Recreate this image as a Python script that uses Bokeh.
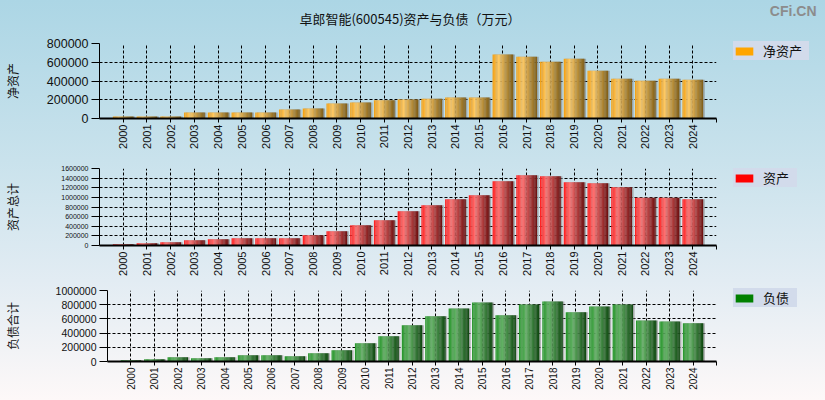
import numpy as np
from bokeh.plotting import figure
from bokeh.models import (FixedTicker, Legend, LegendItem, Label,
                          BasicTickFormatter)
from bokeh.layouts import column, row
from bokeh.embed import file_html
from bokeh.resources import INLINE

# ---------------- data (万元) ----------------
years = [str(y) for y in range(2000, 2025)]
net_assets = [21000, 21000, 21000, 64000, 64000, 64000, 63000, 96000, 106000,
              159000, 170000, 195000, 202000, 212000, 223000, 223000, 683000,
              658000, 605000, 637000, 510000, 425000, 404000, 425000, 414000]
total_assets = [28000, 48000, 69000, 111000, 132000, 152000, 152000, 152000,
                215000, 298000, 422000, 526000, 713000, 838000, 963000, 1046000,
                1337000, 1461000, 1441000, 1316000, 1295000, 1212000, 990000,
                990000, 963000]
liabilities = [19000, 33000, 61000, 47000, 61000, 89000, 89000, 75000, 117000,
               159000, 257000, 355000, 509000, 636000, 748000, 832000, 650000,
               804000, 846000, 692000, 776000, 804000, 579000, 565000, 537000]

title_text = "卓郎智能(600545)资产与负债（万元）"
watermark = "CFi.CN"
y_labels = ["净资产", "资产总计", "负债合计"]
legend_labels = ["净资产", "资产", "负债"]
y_ticks_1 = [0, 200000, 400000, 600000, 800000]
y_ticks_2 = [0, 200000, 400000, 600000, 800000, 1000000, 1200000, 1400000, 1600000]
y_ticks_3 = [0, 200000, 400000, 600000, 800000, 1000000]

W = 825
PW = 730     # width of each chart figure
LW = W - PW  # width of each legend figure
FR = 716     # right edge of plot frames
CJK = "Noto Sans CJK SC"
LAT = "Liberation Sans"


def hex2rgb(h):
    h = h.lstrip("#")
    return np.array([int(h[i:i + 2], 16) for i in (0, 2, 4)], dtype=float)


def grad(stops, t):
    for (p0, c0), (p1, c1) in zip(stops[:-1], stops[1:]):
        if p0 <= t <= p1:
            f = (t - p0) / (p1 - p0) if p1 > p0 else 0
            c = hex2rgb(c0) * (1 - f) + hex2rgb(c1) * f
            return "#%02x%02x%02x" % tuple(int(round(v)) for v in c)
    return stops[-1][1]


def blank(width, height):
    f = figure(width=width, height=height, x_range=(0, 1), y_range=(0, 1),
               output_backend="svg", toolbar_location=None,
               x_axis_location=None, y_axis_location=None,
               min_border_left=0, min_border_right=0, min_border_top=0,
               min_border_bottom=0, frame_align=False)
    f.background_fill_alpha = 0
    f.border_fill_alpha = 0
    f.outline_line_color = None
    f.xgrid.visible = False
    f.ygrid.visible = False
    return f


def panel(values, yticks, height, top, bottom, left, stops, ylabel,
          ytick_size, xtick_size, ylabel_standoff):
    ymax = yticks[-1]
    p = figure(width=PW, height=height, x_range=(-1, 25), y_range=(0, ymax),
               output_backend="svg", toolbar_location=None,
               min_border_left=left, min_border_right=PW - FR,
               min_border_top=top, min_border_bottom=bottom,
               frame_align=False)
    p.background_fill_alpha = 0
    p.border_fill_alpha = 0
    p.outline_line_color = None

    xt = list(range(0, 26))
    p.xaxis.ticker = FixedTicker(ticks=xt)
    overrides = {i: years[i] for i in range(len(years))}
    overrides[25] = ""
    p.xaxis.major_label_overrides = overrides
    p.xaxis.major_label_orientation = np.pi / 2
    p.xaxis.major_label_text_font = LAT
    p.xaxis.major_label_text_font_size = xtick_size
    p.xaxis.major_label_text_color = "#111111"
    p.xaxis.major_label_standoff = 2
    p.xaxis.axis_line_width = 2
    p.xaxis.axis_line_color = "black"
    p.xaxis.major_tick_out = 4
    p.xaxis.major_tick_in = 0
    p.xaxis.major_tick_line_color = "black"
    p.xaxis.minor_tick_line_color = None

    p.yaxis.ticker = FixedTicker(ticks=yticks)
    p.yaxis.formatter = BasicTickFormatter(use_scientific=False)
    p.yaxis.major_label_text_font = LAT
    p.yaxis.major_label_text_font_size = ytick_size
    p.yaxis.major_label_text_color = "#111111"
    p.yaxis.major_label_standoff = 3
    p.yaxis.axis_line_color = "black"
    p.yaxis.axis_line_width = 1
    p.yaxis.major_tick_out = 8
    p.yaxis.major_tick_in = 0
    p.yaxis.major_tick_line_color = "black"
    p.yaxis.minor_tick_line_color = None
    p.yaxis.axis_label = ylabel
    p.yaxis.axis_label_text_font = CJK
    p.yaxis.axis_label_text_font_size = "12px"
    p.yaxis.axis_label_text_font_style = "normal"
    p.yaxis.axis_label_text_color = "#111111"
    p.yaxis.axis_label_standoff = ylabel_standoff

    for g in (p.xgrid, p.ygrid):
        g.grid_line_color = "black"
        g.grid_line_dash = "3 2"
        g.grid_line_width = 1
    p.xgrid.ticker = FixedTicker(ticks=xt)
    p.ygrid.ticker = FixedTicker(ticks=yticks)

    idx = np.arange(len(values), dtype=float)
    vals = np.array(values, dtype=float)
    bw = 0.87
    # shadow
    p.vbar(x=idx + 0.07, top=vals, width=bw, bottom=0,
           fill_color="#7a7a7a", fill_alpha=0.55, line_color=None)
    # gradient bars built from narrow strips
    n = 16
    sw = bw / n
    for k in range(n):
        t = (k + 0.5) / n
        col = grad(stops, t)
        p.vbar(x=idx - bw / 2 + (k + 0.5) * sw, top=vals, bottom=0,
               width=sw * 1.08, fill_color=col, line_color=None)
    return p


def legend_fig(height, color, label, label_width, vy):
    f = blank(LW, height)
    # zero-size swatch renderer: only its colour is used by the legend
    swatch = f.vbar(x=[0.5], top=[0], bottom=[0], width=0,
                    fill_color=color, line_color=None)
    leg = Legend(items=[LegendItem(label=label, renderers=[swatch])],
                 location=(3, vy))
    leg.background_fill_color = "#d2dbeb"
    leg.background_fill_alpha = 1
    leg.border_line_color = None
    leg.glyph_width = 22
    leg.glyph_height = 10
    leg.label_height = 10
    leg.label_width = label_width
    leg.label_standoff = 8
    leg.padding = 7
    leg.margin = 0
    leg.label_text_font = CJK
    leg.label_text_font_size = "13px"
    leg.label_text_color = "#111111"
    leg.label_text_baseline = "middle"
    f.add_layout(leg)
    return f


gold = [(0.0, "#f29e10"), (0.3, "#ffcb66"), (1.0, "#7e5c16")]
red = [(0.0, "#ff1a1a"), (0.3, "#ff7373"), (1.0, "#6a0d0d")]
green = [(0.0, "#26962a"), (0.35, "#62b064"), (1.0, "#0e470f")]

# header: title and watermark
H0 = 30
p0 = blank(W, H0)
p0.add_layout(Label(x=409.5, y=H0 - 18, x_units="screen", y_units="screen",
                    text=title_text, text_align="center",
                    text_baseline="middle", text_font=CJK,
                    text_font_size="13px", text_color="#111111"))
p0.add_layout(Label(x=816, y=H0 - 2, x_units="screen", y_units="screen",
                    text=watermark, text_align="right", text_baseline="top",
                    text_font=LAT, text_font_size="14px",
                    text_font_style="bold", text_color="#8c8c8c"))

H1, H2, H3 = 123, 127, 120
p1 = panel(net_assets, y_ticks_1, H1, 13, 35, 99, gold, y_labels[0],
           "12.5px", "11px", 23)
p2 = panel(total_assets, y_ticks_2, H2, 15, 35, 99, red, y_labels[1],
           "7px", "11px", 37)
p3 = panel(liabilities, y_ticks_3, H3, 10, 39, 107, green, y_labels[2],
           "10.5px", "10px", 32)

l1 = legend_fig(H1, "#ffa500", legend_labels[0], 46, 93)
l2 = legend_fig(H2, "#ff0000", legend_labels[1], 34, 93)
l3 = legend_fig(H3, "#008000", legend_labels[2], 34, 93)

layout = column(p0, row(p1, l1, spacing=0), row(p2, l2, spacing=0),
                row(p3, l3, spacing=0), spacing=0,
                styles={"background": "linear-gradient(to bottom, #acd6e5 0%, #c9e2ec 40%, #e2ecf3 70%, #fdf8f8 100%)"})

open("out.html", "w").write(file_html(layout, INLINE))
